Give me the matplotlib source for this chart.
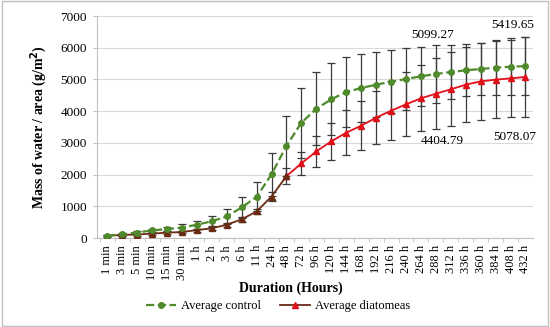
import matplotlib
matplotlib.use("Agg")
import matplotlib.pyplot as plt
from matplotlib.patches import Rectangle

plt.rcParams['font.family'] = ['Liberation Serif', 'DejaVu Serif']

categories = ['1 min', '3 min', '5 min', '10 min', '15 min', '30 min', '1 h', '2 h', '3 h',
              '6 h', '11 h', '24 h', '48 h', '72 h', '96 h', '120 h', '144 h', '168 h',
              '192 h', '216 h', '240 h', '264 h', '288 h', '312 h', '336 h', '360 h',
              '384 h', '408 h', '432 h']

control = [75, 115, 175, 240, 280, 330, 420, 530, 680, 965, 1300, 2010, 2911, 3637,
           4078, 4374, 4604, 4730, 4835, 4930, 5014, 5099.27, 5172, 5235, 5288, 5330,
           5371, 5402, 5419.65]
control_err = [30, 40, 50, 60, 70, 100, 130, 180, 250, 340, 460, 680, 950, 1100,
               1150, 1135, 1094, 1063, 1021, 990, 968, 927, 900, 860, 825, 824,
               867, 899, 922]

diatomeas = [70, 100, 110, 140, 170, 190, 250, 310, 420, 590, 840, 1310, 1955, 2355,
             2733, 3049, 3322, 3542, 3795, 4015, 4215, 4404.79, 4551, 4689, 4835, 4940,
             4993, 5035, 5078.07]
diatomeas_err = [20, 25, 30, 35, 40, 45, 50, 60, 70, 80, 70, 140, 240, 360,
                 480, 580, 700, 770, 830, 934, 1008, 1040, 1112, 1170, 1178, 1210,
                 1222, 1220, 1263]

green = '#4F8A2B'
red = '#E0101A'
brown = '#6B2A12'
x = list(range(len(categories)))

fig = plt.figure(figsize=(5.5, 3.27), dpi=100)
ax = fig.add_axes([0.176, 0.272, 0.793, 0.679])

# error bars first, lines on top
ax.errorbar(x, control, yerr=control_err, fmt='none', ecolor='#3a3a3a',
            elinewidth=0.9, capsize=3, capthick=0.9, zorder=2)
ax.errorbar(x, diatomeas, yerr=diatomeas_err, fmt='none', ecolor='#3a3a3a',
            elinewidth=0.9, capsize=3, capthick=0.9, zorder=2)

ax.plot(x, control, linestyle='--', color=green, lw=1.6, marker='o', ms=4,
        label='Average control', zorder=4)
# early part of the diatomeas series is drawn darker in the original
ax.plot(x[12:], diatomeas[12:], color=red, lw=1.3, marker='^', ms=4.5, zorder=3)
ax.plot(x[:13], diatomeas[:13], color=brown, lw=1.3, marker='^', ms=4.5,
        mfc=brown, mec=brown, zorder=3)
# legend handle
ax.plot([], [], color=brown, lw=1.3, marker='^', ms=4.5, mfc=red, mec=red,
        label='Average diatomeas')

ax.annotate('5099.27', (21, control[21]), xytext=(8.6, 29.5), textcoords='offset points',
            ha='center', va='center', fontsize=9.5)
ax.annotate('5419.65', (28, control[28]), xytext=(-9, 29.5), textcoords='offset points',
            ha='center', va='center', fontsize=9.5)
ax.annotate('4404.79', (21, diatomeas[21]), xytext=(15, -31), textcoords='offset points',
            ha='center', va='center', fontsize=9.5)
ax.annotate('5078.07', (28, diatomeas[28]), xytext=(-7.7, -43), textcoords='offset points',
            ha='center', va='center', fontsize=9.5)

ax.set_xlim(-0.7, 28.5)
ax.set_ylim(0, 7000)
ax.set_yticks(range(0, 7001, 1000))
ax.set_xticks(x)
ax.set_xticklabels(categories, rotation=90, fontsize=9)
ax.tick_params(axis='x', length=0, pad=5)
ax.set_xticks([i + 0.5 for i in x[:-1]] + [-0.5], minor=True)
ax.tick_params(axis='x', which='minor', length=3, color='#bfbfbf')
ax.tick_params(axis='y', labelsize=9.5, length=3, color='#bfbfbf', pad=4)

ax.grid(axis='y', color='#d9d9d9', lw=0.8)
ax.set_axisbelow(True)
for s in ['top', 'right']:
    ax.spines[s].set_visible(False)
ax.spines['left'].set_color('#bfbfbf')
ax.spines['bottom'].set_color('#bfbfbf')

ax.set_ylabel('Mass of water / area (g/m$^\\mathbf{2}$)', fontsize=10, fontweight='bold',
              labelpad=8)
fig.text(291 / 550, 1 - 288 / 327, 'Duration (Hours)', ha='center', va='center',
         fontsize=10, fontweight='bold')

fig.legend(loc='center', bbox_to_anchor=(278 / 550, 1 - 306 / 327), ncol=2, frameon=False,
           fontsize=9, handlelength=2.4, columnspacing=1.5, handletextpad=0.4)

fig.patches.append(Rectangle((0.003, 0.004), 0.994, 0.992, transform=fig.transFigure,
                             fill=False, edgecolor='#bfbfbf', lw=1))

fig.savefig('out.png', dpi=100)
